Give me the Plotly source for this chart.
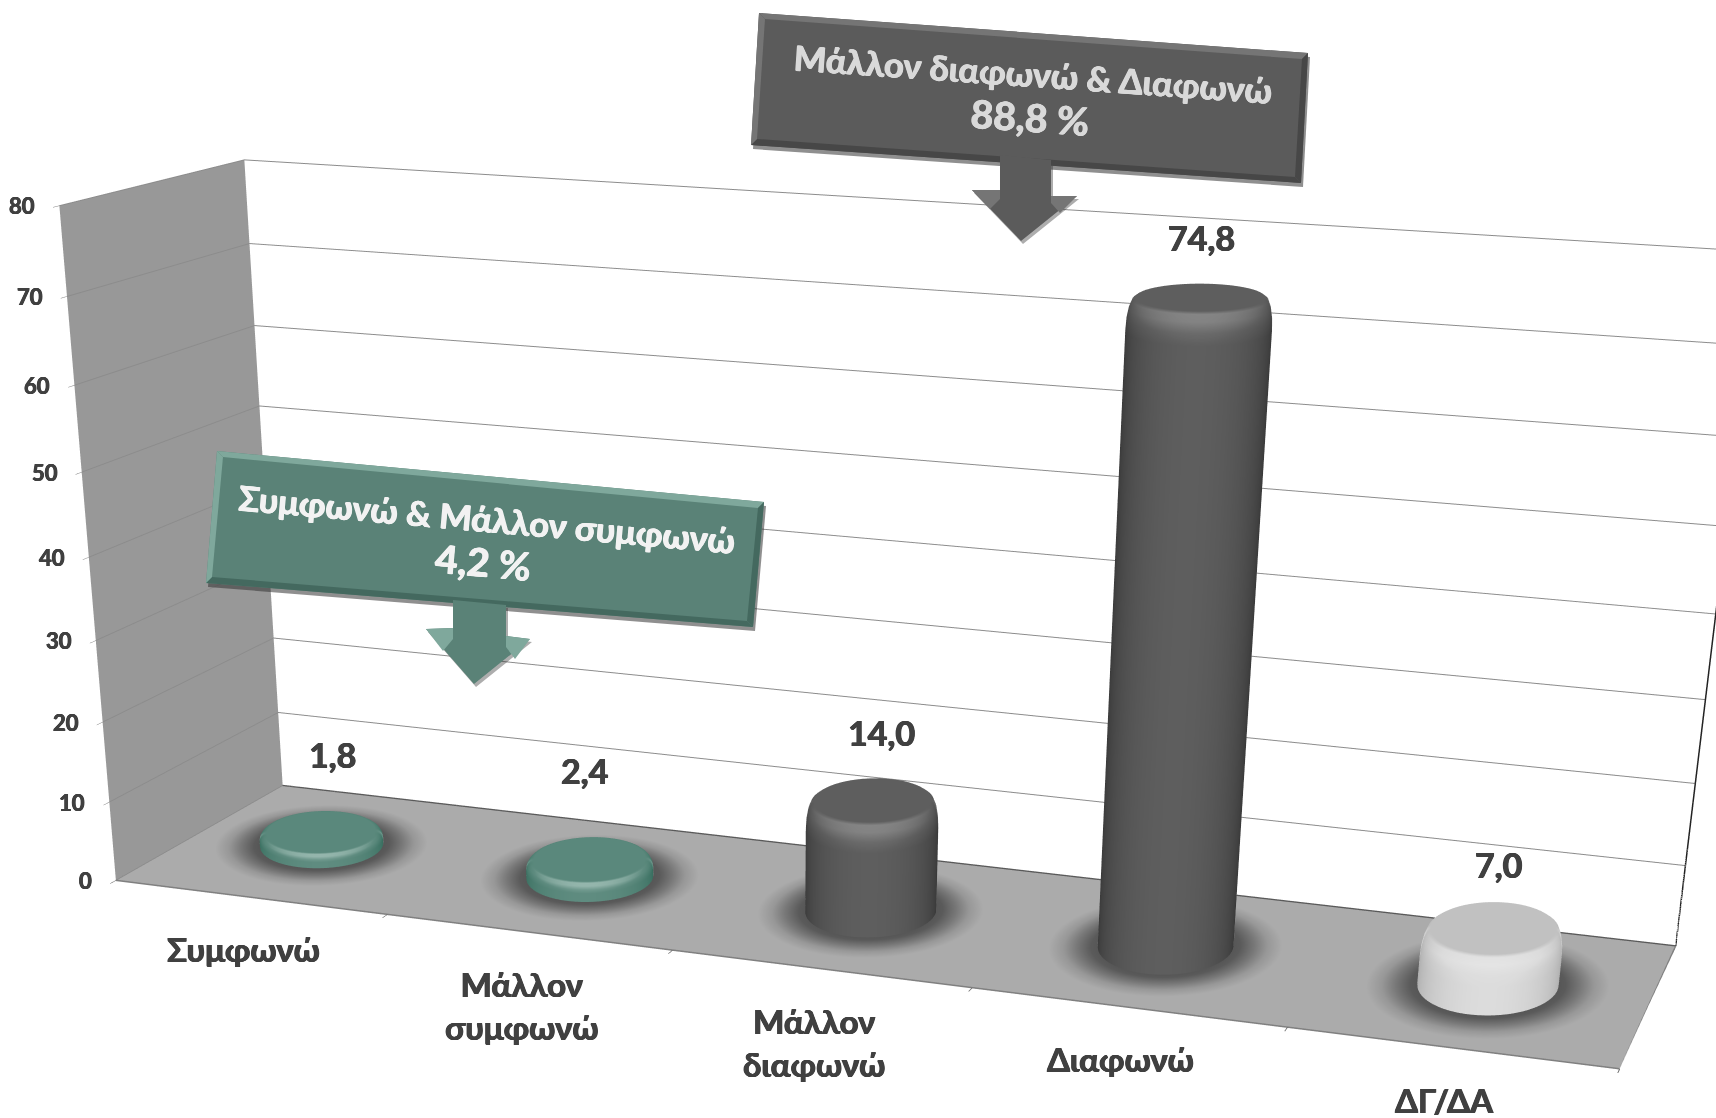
import numpy as np
import plotly.graph_objects as go

categories = ["Συμφωνώ", "Μάλλον<br>συμφωνώ", "Μάλλον<br>διαφωνώ", "Διαφωνώ", "ΔΓ/ΔΑ"]
values = [1.8, 2.4, 14.0, 74.8, 7.0]
value_labels = ["1,8", "2,4", "14,0", "74,8", "7,0"]
bar_styles = ["teal", "teal", "dark", "dark", "light"]
z_ticks = [0, 10, 20, 30, 40, 50, 60, 70, 80]
x_boundaries = [-0.5, 0.5, 1.5, 2.5, 3.5, 4.5]

W, H = 1716, 3000
FONT = "Lato, 'Noto Sans', sans-serif"
TEXT = "#404040"
FLOOR = "#ababab"
BAR_SHIFT = [-0.04, -0.04, -0.04, -0.04, 0.0]
BASE_EYE = np.array([1.2146, -3.6248, 0.8781])
BASE_CENTER = np.array([1.0451, -3.1241, 0.6066])
UP = np.array([-3.057, 8.803, 1.0])
ASPECT = (1.6662, 0.4032, 0.7136)
SCREEN_SHIFT = (5.5, 4.5)
LABEL_DX = [11, -5, 9, 1, 5]
LABEL_DY = [55, 66, 45, 37, 41]

# slide the camera sideways so the whole scene moves by SCREEN_SHIFT pixels
_f = BASE_CENTER - BASE_EYE
_f = _f/np.linalg.norm(_f)
_r = np.cross(_f, UP)
_r = _r/np.linalg.norm(_r)
_u = np.cross(_r, _f)
_k = (-BASE_EYE @ _f)/((H/2)/np.tan(np.pi/8))
_d = (SCREEN_SHIFT[1]*_u - SCREEN_SHIFT[0]*_r)*_k
EYE = BASE_EYE + _d
CENTER = BASE_CENTER + _d

PALETTES = {
    "teal": [[0, "#2d6656"], [0.5, "#5f8c80"], [1, "#d5e8e2"]],
    "dark": [[0, "#2e2e2e"], [0.5, "#5e5e5e"], [1, "#a8a8a8"]],
    "light": [[0, "#a0a0a0"], [0.5, "#dcdcdc"], [1, "#fafafa"]],
}
DISC = {"teal": 0.45, "dark": 0.5, "light": 0.28}
FLAT = dict(ambient=1, diffuse=0, specular=0, roughness=1, fresnel=0)
TH = np.linspace(0, 2*np.pi, 61)


def bold_font(size, color):
    return dict(family=FONT, size=size, weight=800, color=color,
                shadow=f"0.6px 0 0 {color}, -0.6px 0 0 {color}, 0 0.3px 0 {color}")


def footprint(i, r):
    # base outline in data units, skewed so that it reads as a level ellipse on the tilted floor
    r = r*(1 + 0.025*i)
    skew = -0.118 + 0.019*i
    x = i + BAR_SHIFT[i] + r*(0.19*np.cos(TH) + skew*np.sin(TH))
    y = 0.5 + r*((0.075 - 0.005*i)*np.cos(TH) + (0.205 + 0.004*i)*np.sin(TH))
    return x, y


def cylinder(i, h, style):
    c = -np.sin(TH)
    bev = min(h*0.5, 3.5)
    arc = np.linspace(0, np.pi/2, 5)
    zs = np.r_[0, h - bev + bev*np.sin(arc), h]
    rs = np.r_[1, 1 - 0.12*(1 - np.cos(arc)), 0.0]
    Z = np.outer(zs, np.ones_like(TH))
    X = np.array([footprint(i, r)[0] for r in rs])
    Y = np.array([footprint(i, r)[1] for r in rs])
    side = 0.08 + 0.42*np.clip(c, 0, 1) + 0.6*(np.abs(c) < 0.06)
    C = np.zeros_like(Z)
    C[0] = C[1] = side
    n = len(arc)
    for k in range(2, n + 1):
        t = (k - 1)/(n - 1)
        front = np.clip(c, 0, 1)
        C[k] = (1 - t)*side + t*(DISC[style] + 0.5*front*np.sin(np.pi*t))
    C[-1] = DISC[style]
    return go.Surface(x=X, y=Y, z=Z, surfacecolor=C, cmin=0, cmax=1, colorscale=PALETTES[style],
                      showscale=False, lighting=FLAT, hoverinfo="skip")


def halo(i):
    rr = np.array([0, 0.9, 1.1, 1.3, 1.5, 1.72])
    vv = np.array([0, 0, 0.1, 0.42, 0.78, 1])
    X = np.array([footprint(i, r)[0] for r in rr])
    Y = np.array([footprint(i, r)[1] for r in rr])
    Z = np.full_like(X, 0.15)
    C = np.outer(vv, np.ones_like(TH))
    return go.Surface(x=X, y=Y, z=Z, surfacecolor=C, cmin=0, cmax=1,
                      colorscale=[[0, "#525252"], [1, FLOOR]], showscale=False, lighting=FLAT, hoverinfo="skip")


def edge(xs, ys, zs, color, w=3):
    return go.Scatter3d(x=xs, y=ys, z=zs, mode="lines", line=dict(color=color, width=w), hoverinfo="skip")


fig = go.Figure()
for i, (v, s) in enumerate(zip(values, bar_styles)):
    fig.add_trace(halo(i))
    fig.add_trace(cylinder(i, v, s))
xmin, xmax, zmax = x_boundaries[0], x_boundaries[-1], z_ticks[-1]
fig.add_trace(edge([xmin, xmax], [1, 1], [0, 0], "#5a5a5a"))
fig.add_trace(edge([xmin, xmax], [0, 0], [0, 0], "#808080"))
fig.add_trace(edge([xmax, xmax], [0, 1], [0, 0], "#808080"))
fig.add_trace(edge([xmax, xmax], [1, 1], [0, zmax], "#222222"))
fig.add_trace(edge([xmin, xmin], [0, 1], [0, 0], "#8a8a8a"))

scene_notes = []
for i, (v, t) in enumerate(zip(values, value_labels)):
    scene_notes.append(dict(x=i + BAR_SHIFT[i], y=0.5, z=v, text=f"<b>{t}</b>", showarrow=False, yanchor="bottom",
                            yshift=LABEL_DY[i], xshift=LABEL_DX[i], font=bold_font(34, TEXT)))
for i, t in enumerate(categories):
    scene_notes.append(dict(x=i, y=0, z=0, text=f"<b>{t}</b>", showarrow=False, yanchor="top", yshift=-30, xshift=-7,
                            font=bold_font(33, TEXT)))
for z in z_ticks:
    scene_notes.append(dict(x=xmin, y=0, z=z, text=f"<b>{z}</b>", showarrow=False, xanchor="right", xshift=-22,
                            font=bold_font(22, TEXT)))


def P(pts):
    return "M " + " L ".join(f"{x/W:.5f},{1 - y/H:.5f}" for x, y in pts) + " Z"


def poly(pts, color, opacity=1):
    return dict(type="path", xref="paper", yref="paper", path=P(pts), fillcolor=color, opacity=opacity,
                line_width=0, layer="above")


def callout(box, arrow, wings, base, light, dark, shadow_col="#333333"):
    tl, tr, br, bl = box
    d = 6
    itl, itr, ibr, ibl = (tl[0]+d, tl[1]+d), (tr[0]-d, tr[1]+d), (br[0]-d, br[1]-d), (bl[0]+d, bl[1]-d)
    out = [poly([(x+2, y+4) for x, y in box], shadow_col, 0.55),
           poly([(x+2, y+3) for x, y in arrow], shadow_col, 0.4),
           poly(box, base),
           poly([tl, tr, itr, itl], light), poly([bl, br, ibr, ibl], dark),
           poly([tl, bl, ibl, itl], light), poly([tr, br, ibr, itr], dark),
           poly(arrow, base)]
    out += [poly(w, light) for w in wings]
    return out


shapes = []
shapes += callout(
    [(759, 13), (1308, 53), (1301, 183), (751, 145)],
    [(1000, 155), (1000, 190), (972, 190), (1021, 241), (1077, 196), (1051, 196), (1051, 160)],
    [[(972, 190), (1000, 190), (1000, 199), (990, 209)], [(1077, 196), (1051, 196), (1051, 203), (1060, 213)]],
    "#5b5b5b", "#757575", "#474747")
shapes += callout(
    [(217, 451), (764, 502), (753, 627), (206, 583)],
    [(453, 600), (453, 628), (426, 629), (474, 684), (530, 639), (506, 636), (506, 605)],
    [[(426, 629), (453, 628), (453, 639), (443, 651)], [(530, 639), (506, 636), (506, 647), (515, 659)]],
    "#5a8277", "#7fa89c", "#44695f")

notes = [
    dict(x=1031/W, y=1 - 96/H, xref="paper", yref="paper", xanchor="center", yanchor="middle",
         text="<b>Μάλλον διαφωνώ & Διαφωνώ<br><span style=\"font-size:39px\">88,8 %</span></b>",
         textangle=4, showarrow=False, font=bold_font(34.5, "#d9d9d9")),
    dict(x=485/W, y=1 - 541/H, xref="paper", yref="paper", xanchor="center", yanchor="middle",
         text="<b>Συμφωνώ & Μάλλον συμφωνώ<br><span style=\"font-size:39px\">4,2 %</span></b>",
         textangle=5, showarrow=False, font=bold_font(34.5, "#f2f2f2")),
]

fig.update_layout(
    width=W, height=H, margin=dict(l=0, r=0, t=0, b=0), showlegend=False, paper_bgcolor="white",
    font=dict(family=FONT), shapes=shapes, annotations=notes,
    scene=dict(
        domain=dict(x=[0, 1], y=[0, 1]),
        aspectmode="manual", aspectratio=dict(x=ASPECT[0], y=ASPECT[1], z=ASPECT[2]),
        camera=dict(eye=dict(x=EYE[0], y=EYE[1], z=EYE[2]), center=dict(x=CENTER[0], y=CENTER[1], z=CENTER[2]),
                    up=dict(x=UP[0], y=UP[1], z=UP[2])),
        xaxis=dict(title="", range=[xmin, xmax], tickmode="array", tickvals=x_boundaries, ticktext=[""]*6,
                   showgrid=False, zeroline=False, showbackground=True, backgroundcolor="#989898",
                   ticks="outside", ticklen=12, tickwidth=2, tickcolor="#707070", showspikes=False),
        yaxis=dict(title="", range=[0, 1], showticklabels=False, ticks="", showgrid=False, zeroline=False,
                   showbackground=True, backgroundcolor="white", showspikes=False),
        zaxis=dict(title="", range=[0, zmax], tickmode="array", tickvals=z_ticks, showticklabels=False,
                   showgrid=True, gridcolor="#8c8c8c", gridwidth=2, zeroline=False, showbackground=True,
                   backgroundcolor=FLOOR, ticks="outside", ticklen=8, tickcolor="#808080", showspikes=False),
        annotations=scene_notes,
    ),
)
fig.write_html("out.html", config={"displayModeBar": False}, post_script="document.body.style.margin='0';")
